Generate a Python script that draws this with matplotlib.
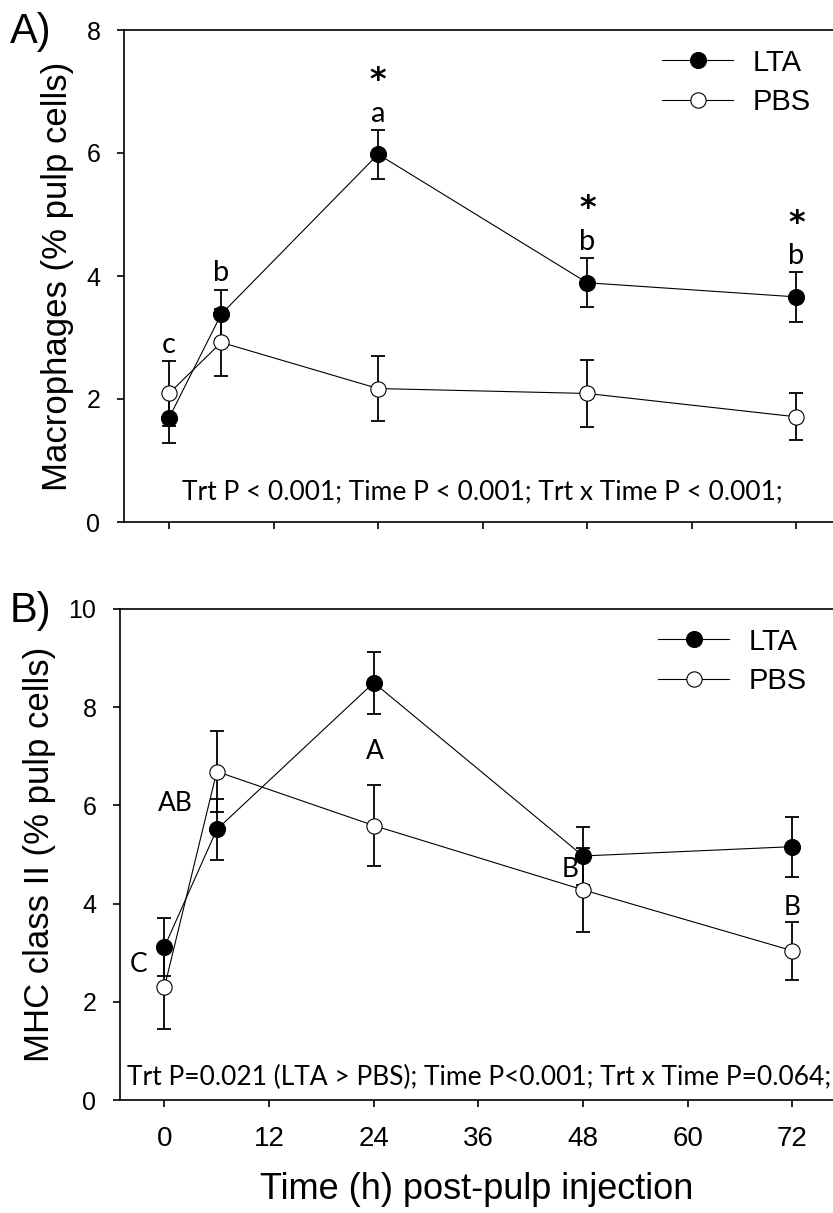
import matplotlib
matplotlib.use("Agg")
import matplotlib.pyplot as plt
import numpy as np

plt.rcParams['font.family'] = ['Liberation Sans', 'DejaVu Sans']

hours = [0, 6, 24, 48, 72]
xticks = [0, 12, 24, 36, 48, 60, 72]

# panel A: macrophages
mac_lta = [1.69, 3.38, 5.98, 3.89, 3.66]
mac_lta_se = [0.40, 0.40, 0.40, 0.40, 0.40]
mac_pbs = [2.09, 2.92, 2.17, 2.09, 1.71]
mac_pbs_se = [0.53, 0.55, 0.53, 0.54, 0.38]
mac_letters = ['c', 'b', 'a', 'b', 'b']
mac_stars = ['', '', '*', '*', '*']
mac_stats = "Trt P < 0.001; Time P < 0.001; Trt x Time P < 0.001;"

# panel B: MHC class II
mhc_lta = [3.12, 5.51, 8.50, 4.97, 5.16]
mhc_lta_se = [0.59, 0.62, 0.63, 0.60, 0.61]
mhc_pbs = [2.30, 6.69, 5.59, 4.28, 3.04]
mhc_pbs_se = [0.85, 0.83, 0.82, 0.85, 0.59]
mhc_letters = ['C', 'AB', 'A', 'B', 'B']
mhc_letter_xy = [(-3.0, 2.75), (1.3, 6.03), (24.1, 7.09), (46.5, 4.70), (72.0, 3.93)]
mhc_stats = "Trt P=0.021 (LTA > PBS); Time P<0.001; Trt x Time P=0.064;"

note_font = ['Lato', 'DejaVu Sans']

fig = plt.figure(figsize=(8.33, 12.13), dpi=100)
ax1 = fig.add_axes([124/833, 1 - 522/1213, 709/833, 492/1213])
ax2 = fig.add_axes([120/833, 1 - 1100/1213, 713/833, 491/1213])


def draw(ax, lta, lta_se, pbs, pbs_se, ylim, yticks):
    ax.errorbar(hours, lta, yerr=lta_se, fmt='none', ecolor='black',
                elinewidth=1.3, capsize=5, capthick=1.3, zorder=2)
    ax.errorbar(hours, pbs, yerr=pbs_se, fmt='none', ecolor='black',
                elinewidth=1.3, capsize=5, capthick=1.3, zorder=2)
    ax.plot(hours, lta, '-o', color='black', lw=0.8, ms=11.5,
            mfc='black', mec='black', mew=0.8, label='LTA', zorder=4)
    ax.plot(hours, pbs, '-o', color='black', lw=0.8, ms=11,
            mfc='white', mec='black', mew=0.8, label='PBS', zorder=3)
    ax.set_ylim(*ylim)
    ax.set_yticks(yticks)
    ax.set_xticks(xticks)
    ax.spines['right'].set_visible(False)
    for s in ['left', 'bottom', 'top']:
        ax.spines[s].set_linewidth(1.2)
    ax.tick_params(direction='out', length=5, width=1.2, pad=12,
                   labelsize=18)
    leg = ax.legend(loc='upper left', frameon=False, fontsize=21,
                    handlelength=2.45, handletextpad=0.65, labelspacing=0.4,
                    borderpad=0, borderaxespad=0)
    return leg


leg1 = draw(ax1, mac_lta, mac_lta_se, mac_pbs, mac_pbs_se, (0, 8), [0, 2, 4, 6, 8])
leg1.set_bbox_to_anchor((538/709, 0.962), transform=ax1.transAxes)
ax1.set_xlim(-5.16, 76.2)
ax1.tick_params(axis='x', labelbottom=False)
ax1.set_ylabel('Macrophages (% pulp cells)', fontsize=25, labelpad=9)

tops = np.maximum(np.add(mac_lta, mac_lta_se), np.add(mac_pbs, mac_pbs_se))
for h, t, lt, st in zip(hours, tops, mac_letters, mac_stars):
    ax1.text(h, t + 0.05, lt, ha='center', va='bottom', fontsize=21,
             family=note_font)
    if st:
        ax1.text(h, t + 0.80, st, ha='center', va='center', fontsize=23,
                 family=['DejaVu Sans'], fontweight='bold')
ax1.text(36, 0.49, mac_stats, ha='center', va='center', fontsize=19,
         family=note_font)

leg2 = draw(ax2, mhc_lta, mhc_lta_se, mhc_pbs, mhc_pbs_se, (0, 10), [0, 2, 4, 6, 8, 10])
leg2.set_bbox_to_anchor((538/713, 0.962), transform=ax2.transAxes)
ax2.set_xlim(-5.1, 76.66)
ax2.tick_params(axis='x', labelsize=20, pad=14)
ax2.set_ylabel('MHC class II (% pulp cells)', fontsize=25, labelpad=9)
ax2.set_xlabel('Time (h) post-pulp injection', fontsize=26, labelpad=14)
for lt, (lx, ly) in zip(mhc_letters, mhc_letter_xy):
    ax2.text(lx, ly, lt, ha='center', va='center', fontsize=19,
             family=note_font)
ax2.text(36.07, 0.45, mhc_stats, ha='center', va='center', fontsize=19,
         family=note_font)

fig.text(10/833, 1 - 43/1213, 'A)', fontsize=30, ha='left', va='baseline')
fig.text(10/833, 1 - 622/1213, 'B)', fontsize=30, ha='left', va='baseline')

fig.savefig('out.png', dpi=100)
